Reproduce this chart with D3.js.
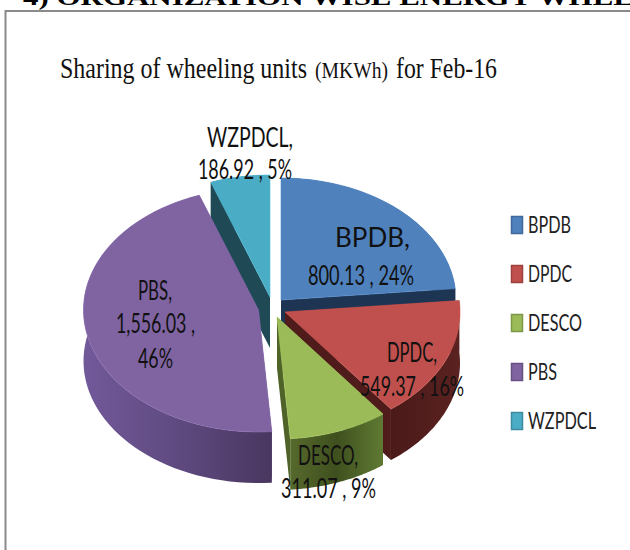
<!DOCTYPE html>
<html><head><meta charset="utf-8">
<style>html,body{margin:0;padding:0;background:#fff;overflow:hidden}svg{display:block}</style>
<script src="https://cdn.jsdelivr.net/npm/d3@7/dist/d3.min.js"></script></head>
<body><svg id="c" width="630" height="550"></svg>
<script>
const categories = ["BPDB","DPDC","DESCO","PBS","WZPDCL"];
const values = [800.13,549.37,311.07,1556.03,186.92];
const colors = ["#4F81BD","#C0504D","#9BBB59","#8064A2","#4BACC6"];
const pageHeading = "4) ORGANIZATION WISE ENERGY WHEELING";
const titleParts = ["Sharing of wheeling units ","(MKWh)"," for Feb-16"];

// layout constants
const rx=175, ry=122, depth=51;
const apex={BPDB:[281,300],DPDC:[285,312],DESCO:[277,317],PBS:[258.5,310],WZPDCL:[270,297]};
const cutShade={BPDB:"#1d3553",DPDC:"#4f1c1b",DESCO:"#4f6228",PBS:"#4a3860",WZPDCL:"#1f4a55"};
const wallStops={BPDB:["#24405f","#1d3553"],DPDC:["#4a1a19","#5a2220"],DESCO:["#56692c","#3f501e","#5f7a33"],PBS:["#72599a","#5f4a80","#493760"],WZPDCL:["#1f4a55","#1f4a55"]};
const drawOrder=["BPDB","WZPDCL","PBS","DPDC","DESCO"];
const labelLayout={
 BPDB:[[335,410,247],[308,414,285]],
 DPDC:[[387,437,362],[360,464,396]],
 DESCO:[[298,358,465],[281,376,498]],
 PBS:[[138,172,300],[116,195,333],[138,173,368]],
 WZPDCL:[[207,293,147],[198,292,179]]
};

const svg=d3.select("#c");
const defs=svg.append("defs");
const color=d3.scaleOrdinal(categories,colors);
const total=d3.sum(values);
const pie=d3.pie().sort(null).value(d=>d.value);
const arcs=pie(categories.map((name,i)=>({name,value:values[i]})));
const byName=new Map(arcs.map(a=>[a.data.name,a]));
const line=d3.line();
const pt=(n,a,dy=0)=>[apex[n][0]+rx*Math.sin(a),apex[n][1]-ry*Math.cos(a)+dy];
const rim=(n,a0,a1,dy=0)=>d3.range(0,61).map(i=>pt(n,a0+(a1-a0)*i/60,dy));
const A=(n)=>apex[n];

// frame
svg.append("path").attr("d",line([[5.5,550],[5.5,11],[630,11]])).attr("fill","none").attr("stroke","#8a8a8a").attr("stroke-width",2);
// heading clipped by the top of the page
svg.append("text").text(pageHeading).attr("x",23).attr("y",5)
  .attr("font-family","Liberation Serif").attr("font-weight","bold").attr("font-size",24)
  .attr("textLength",690).attr("lengthAdjust","spacingAndGlyphs").attr("fill","#000");
// title
const tx=[[60,307,30],[315,388,24],[396,497,30]];
titleParts.forEach((t,i)=>svg.append("text").text(t.trim()).attr("x",tx[i][0]).attr("y",78)
  .attr("font-family","Liberation Serif").attr("font-size",tx[i][2])
  .attr("textLength",tx[i][1]-tx[i][0]).attr("lengthAdjust","spacingAndGlyphs").attr("fill","#111"));

// slices
const g=svg.append("g");
drawOrder.forEach(n=>{
  const d=byName.get(n), a0=d.startAngle, a1=d.endAngle, c=A(n);
  const id="w"+n, stops=wallStops[n];
  const lg=defs.append("linearGradient").attr("id",id).attr("gradientUnits","userSpaceOnUse")
    .attr("x1",c[0]+rx*Math.min(Math.sin(a0),Math.sin(a1),n==="PBS"?-1:1)).attr("x2",c[0]+rx*Math.max(Math.sin(a0),Math.sin(a1))).attr("y1",0).attr("y2",0);
  stops.forEach((s,i)=>lg.append("stop").attr("offset",i/(stops.length-1)).attr("stop-color",s));
  const sg=g.append("g");
  // cut faces
  [a0,a1].forEach(a=>{
    const r=pt(n,a);
    sg.append("path").attr("d",line([c,r,[r[0],r[1]+depth],[c[0],c[1]+depth]])+"Z").attr("fill",cutShade[n]);
  });
  // outer wall
  sg.append("path").attr("d",line(rim(n,a0,a1).concat(rim(n,a1,a0,depth)))+"Z").attr("fill",`url(#${id})`);
  // top face
  sg.append("path").attr("d",line([c].concat(rim(n,a0,a1)))+"Z").attr("fill",color(n))
    .attr("stroke",d3.color(color(n)).brighter(0.25)).attr("stroke-width",0.6);
});

// data labels
const fmtV=d3.format(",.2f"), fmtP=d3.format(".0%");
const labelFont={"font-family":"Lato","font-size":26,"fill":"#111"};
categories.forEach((n,i)=>{
  const v=fmtV(values[i]), p=fmtP(values[i]/total);
  const lines=n==="PBS"?[n+",",v+" ,",p]:[n+",",v+" , "+p];
  lines.forEach((t,j)=>{
    const [x0,x1,y]=labelLayout[n][j];
    const el=svg.append("text").text(t).attr("x",x0).attr("y",y)
      .attr("textLength",x1-x0).attr("lengthAdjust","spacingAndGlyphs");
    Object.entries(labelFont).forEach(([k,val])=>el.attr(k,val));
  });
});

// legend
const ly=d3.scalePoint().domain(categories).range([225,421]);
const legendEnd=[571,572,582,557,596];
categories.forEach((n,i)=>{
  svg.append("rect").attr("x",511.5).attr("y",ly(n)-8.5).attr("width",11).attr("height",17)
    .attr("fill",color(n)).attr("stroke",d3.color(color(n)).darker(0.6)).attr("stroke-width",1.5);
  svg.append("text").text(n).attr("x",528).attr("y",ly(n)+8)
    .attr("font-family","Lato").attr("font-size",23).attr("fill","#222")
    .attr("textLength",legendEnd[i]-528).attr("lengthAdjust","spacingAndGlyphs");
});
</script></body></html>
